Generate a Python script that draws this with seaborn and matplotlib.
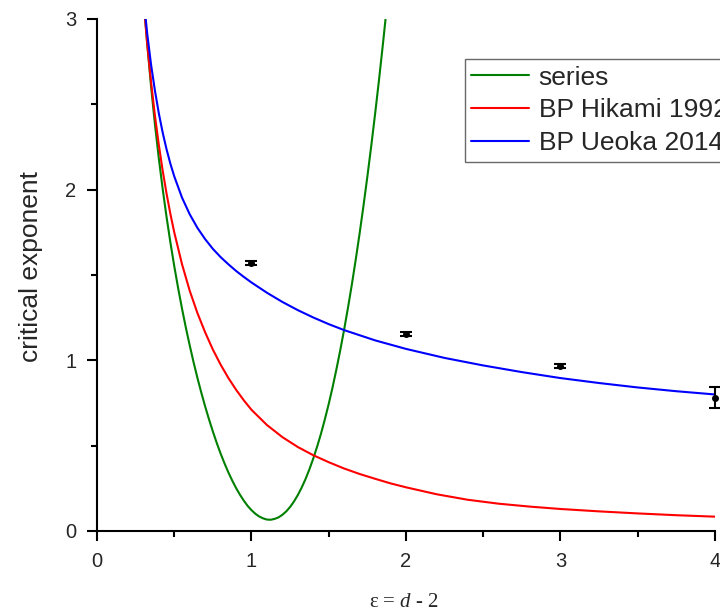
import matplotlib
matplotlib.use("Agg")
import matplotlib.pyplot as plt
from matplotlib.ticker import MultipleLocator
import seaborn as sns
import pandas as pd

# --- data ---
eps_series = [0.300, 0.325, 0.350, 0.375, 0.400, 0.425, 0.450, 0.475, 0.500, 0.525,
              0.550, 0.575, 0.600, 0.625, 0.650, 0.675, 0.700, 0.725, 0.750, 0.775,
              0.800, 0.825, 0.850, 0.875, 0.900, 0.925, 0.950, 0.975, 1.000, 1.025,
              1.050, 1.075, 1.100, 1.125, 1.150, 1.175, 1.200, 1.225, 1.250, 1.275,
              1.300, 1.325, 1.350, 1.375, 1.400, 1.425, 1.450, 1.475, 1.500, 1.525,
              1.550, 1.575, 1.600, 1.625, 1.650, 1.675, 1.700, 1.725, 1.750, 1.775,
              1.800, 1.825, 1.850, 1.875, 1.900]
nu_series = [3.139, 2.854, 2.604, 2.383, 2.184, 2.005, 1.841, 1.691, 1.552, 1.424,
             1.304, 1.192, 1.088, 0.989, 0.897, 0.811, 0.730, 0.654, 0.583, 0.516,
             0.454, 0.397, 0.344, 0.296, 0.252, 0.213, 0.178, 0.147, 0.122, 0.101,
             0.085, 0.074, 0.067, 0.066, 0.071, 0.080, 0.095, 0.115, 0.141, 0.173,
             0.211, 0.255, 0.305, 0.362, 0.425, 0.495, 0.571, 0.655, 0.745, 0.843,
             0.949, 1.062, 1.182, 1.311, 1.447, 1.592, 1.745, 1.907, 2.077, 2.256,
             2.444, 2.641, 2.848, 3.064, 3.290]

eps_hikami = [0.300, 0.325, 0.350, 0.375, 0.400, 0.425, 0.450, 0.475, 0.500, 0.550,
              0.600, 0.650, 0.700, 0.750, 0.800, 0.850, 0.900, 0.950, 1.000, 1.100,
              1.200, 1.300, 1.400, 1.500, 1.600, 1.700, 1.800, 1.900, 2.000, 2.200,
              2.400, 2.600, 2.800, 3.000, 3.250, 3.500, 3.750, 4.000]
nu_hikami = [3.117, 2.854, 2.629, 2.433, 2.263, 2.112, 1.978, 1.858, 1.750, 1.564,
             1.408, 1.277, 1.164, 1.063, 0.975, 0.897, 0.828, 0.766, 0.710, 0.621,
             0.550, 0.492, 0.444, 0.403, 0.366, 0.334, 0.306, 0.279, 0.256, 0.215,
             0.183, 0.160, 0.143, 0.129, 0.115, 0.103, 0.0925, 0.084]

eps_ueoka = [0.300, 0.325, 0.350, 0.375, 0.400, 0.425, 0.450, 0.475, 0.500, 0.550,
             0.600, 0.650, 0.700, 0.750, 0.800, 0.850, 0.900, 0.950, 1.000, 1.100,
             1.200, 1.300, 1.400, 1.500, 1.600, 1.800, 2.000, 2.250, 2.500, 2.750,
             3.000, 3.250, 3.500, 3.750, 4.000]
nu_ueoka = [3.133, 2.915, 2.732, 2.580, 2.448, 2.335, 2.237, 2.152, 2.078, 1.954,
            1.856, 1.776, 1.710, 1.653, 1.605, 1.563, 1.524, 1.489, 1.456, 1.396,
            1.342, 1.294, 1.251, 1.212, 1.177, 1.117, 1.067, 1.014, 0.970, 0.931,
            0.896, 0.867, 0.841, 0.819, 0.800]

pts_eps = [1, 2, 3, 4]
pts_nu = [1.572, 1.156, 0.967, 0.781]
pts_err = [0.012, 0.012, 0.012, 0.062]

labels = ["series", "BP Hikami 1992", "BP Ueoka 2014"]
colors = ["#008000", "#ff0000", "#0000ff"]

df = pd.concat([
    pd.DataFrame({"eps": eps_series, "nu": nu_series, "curve": labels[0]}),
    pd.DataFrame({"eps": eps_hikami, "nu": nu_hikami, "curve": labels[1]}),
    pd.DataFrame({"eps": eps_ueoka, "nu": nu_ueoka, "curve": labels[2]}),
], ignore_index=True)

sns.set_style("ticks")
plt.rcParams["font.family"] = ["Liberation Sans", "DejaVu Sans"]
plt.rcParams["mathtext.fontset"] = "custom"
plt.rcParams["mathtext.it"] = "Liberation Serif:italic"
plt.rcParams["mathtext.rm"] = "Liberation Serif"

fig = plt.figure(figsize=(7.2, 6.12), dpi=100)
ax = fig.add_axes([97/720, 81/612, 618/720, 512/612])

sns.lineplot(data=df, x="eps", y="nu", hue="curve", hue_order=labels,
             palette=dict(zip(labels, colors)), estimator=None, sort=False,
             linewidth=1.5, ax=ax)

ax.errorbar(pts_eps, pts_nu, yerr=pts_err, fmt="o", color="black",
            markersize=4, capsize=4, elinewidth=1.5, capthick=1.5,
            clip_on=False, zorder=5)

ax.set_xlim(0, 4)
ax.set_ylim(0, 3)
ax.xaxis.set_major_locator(MultipleLocator(1))
ax.yaxis.set_major_locator(MultipleLocator(1))
ax.xaxis.set_minor_locator(MultipleLocator(0.5))
ax.yaxis.set_minor_locator(MultipleLocator(0.5))
ax.tick_params(which="major", direction="out", length=7, width=1.5,
               labelsize=14.5, pad=8, color="black")
ax.tick_params(which="minor", direction="out", length=4, width=1.5, color="black")

for s in ["top", "right"]:
    ax.spines[s].set_visible(False)
for s in ["left", "bottom"]:
    ax.spines[s].set_linewidth(1.5)
    ax.spines[s].set_color("black")

ax.set_ylabel("critical exponent", fontsize=19)
ax.yaxis.set_label_coords(-0.088, 0.516)
ax.set_xlabel("ε = $d$ - 2", fontsize=15, family=["Liberation Serif", "DejaVu Serif"])
ax.xaxis.set_label_coords(0.497, -0.121)

leg = ax.legend(loc="upper left", bbox_to_anchor=(0.595, 0.922), borderaxespad=0,
                fontsize=19, frameon=True, fancybox=False, handlelength=2.2,
                handletextpad=0.35, borderpad=0.25, labelspacing=0.33)
leg.get_frame().set_edgecolor("#444444")
leg.get_frame().set_linewidth(1.0)
leg.set_clip_on(False)
for line in leg.get_lines():
    line.set_linewidth(1.5)

fig.savefig("out.png", dpi=100)
